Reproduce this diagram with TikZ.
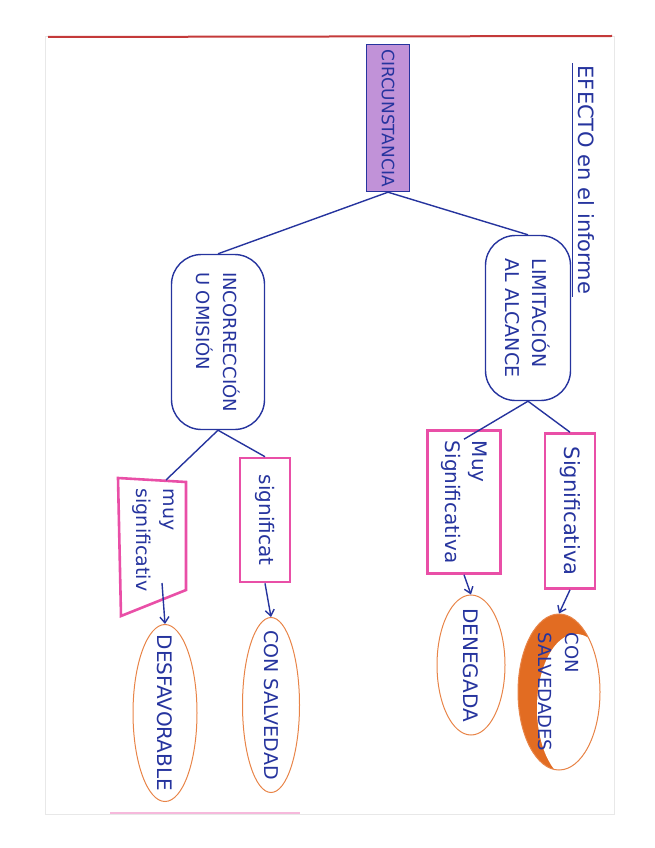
\documentclass[tikz,border=0pt]{standalone}
\usepackage{fontspec}
\setsansfont{DejaVu Sans}
\usetikzlibrary{shapes.geometric,arrows.meta}

\definecolor{inkblue}{RGB}{38,52,158}
\definecolor{lilac}{RGB}{193,146,216}
\definecolor{hotpink}{RGB}{233,79,167}
\definecolor{orangeline}{RGB}{232,132,72}
\definecolor{orangefill}{RGB}{226,108,34}
\definecolor{pageedge}{RGB}{196,58,58}

\begin{document}
\begin{tikzpicture}[
    x=1pt,
    y=-1pt,
    >={Straight Barb[length=6pt,width=9pt]},
    every node/.style={text=inkblue, rotate=-90, font=\sffamily\fontsize{17}{27}\selectfont},
    fs/.style={font=\sffamily\fontsize{#1}{27}\selectfont},
    circbox/.style={draw=inkblue, line width=1.4pt, fill=lilac, minimum width=147pt, minimum height=43pt, inner sep=0pt},
    blob/.style={draw=inkblue, line width=1.4pt, rounded corners=30pt, align=left, inner sep=0pt},
    pinkbox/.style={draw=hotpink, line width=2.6pt, align=left, inner sep=0pt},
    oval/.style={ellipse, draw=orangeline, line width=1pt, inner sep=0pt},
    link/.style={draw=inkblue, line width=1.4pt}
]

    \useasboundingbox (0,0) rectangle (655,848);

    % sheet of paper
    \draw[gray!18, line width=1pt] (45,37) rectangle (614,814);
    \draw[pageedge, line width=2pt] (48,37) -- (612,36);
    \draw[hotpink!40, line width=1.5pt] (110,813) -- (300,813);

    % title
    \node[fs=21, inner sep=2pt] (title) at (586,180) {EFECTO en el informe};
    \draw[link, line width=1pt] ([xshift=-3pt]title.south west) -- ([xshift=-3pt]title.south east);

    \node[circbox] (circ) at (388,118) {CIRCUNSTANCIA};

    \node[blob, fs=18, minimum width=175pt, minimum height=93pt] (inc) at (218,342) {INCORRECCIÓN\\U OMISIÓN};
    \node[blob, fs=19, minimum width=165pt, minimum height=85pt] (lim) at (528,318) {LIMITACIÓN\\AL ALCANCE};

    \draw[link] (circ.east) -- (inc.west);
    \draw[link] (circ.east) -- (lim.west);

    % left branch
    \draw[draw=hotpink, line width=2.6pt] (118,478) -- (186,482) -- (186,590) -- (121,616) -- cycle;
    \node[fs=19, align=left, inner sep=0pt] (muyL) at (153,540) {muy\\significativ};
    \coordinate (muyLtop) at (166,480);
    \coordinate (muyLout) at (162,583);
    \node[pinkbox, fs=20, minimum width=124pt, minimum height=50pt] (sigL) at (265,520) {significat};

    \draw[link] (inc.east) -- (muyLtop);
    \draw[link] (inc.east) -- (sigL.west);

    \node[oval, minimum width=177pt, minimum height=64pt,
          label={[fs=20]center:DESFAVORABLE}] (desf) at (165,713) {};
    \node[oval, minimum width=175pt, minimum height=57pt,
          label={[fs=19]center:CON SALVEDAD}] (consal) at (271,705) {};

    \draw[link, ->] (muyLout) -- (desf.west);
    \draw[link, ->] (sigL.east) -- (consal.west);

    % right branch
    \node[pinkbox, fs=20, minimum width=143pt, minimum height=73pt] (muyR) at (464,502) {Muy\\Significativa};
    \node[pinkbox, fs=21, minimum width=155pt, minimum height=50pt] (sigR) at (570,511) {Significativa};

    \draw[link] (lim.east) -- ([yshift=-10pt]muyR.west);
    \draw[link] (lim.east) -- (sigR.west);

    \node[oval, minimum width=140pt, minimum height=68pt,
          label={[fs=20]center:DENEGADA}] (den) at (471,665) {};

    % coloured-in edge of the last oval
    \begin{scope}
        \clip (559,692) ellipse [x radius=41, y radius=78];
        \fill[orangefill] (515,610) rectangle (605,775);
        \fill[white] (576,708) ellipse [x radius=39, y radius=74];
    \end{scope}
    \node[oval, minimum width=156pt, minimum height=82pt,
          label={[fs=18, align=left]center:CON\\SALVEDADES}] (consals) at (559,692) {};

    \draw[link, ->] (muyR.east) -- (den.west);
    \draw[link, ->] (sigR.east) -- (consals.west);

\end{tikzpicture}
\end{document}
